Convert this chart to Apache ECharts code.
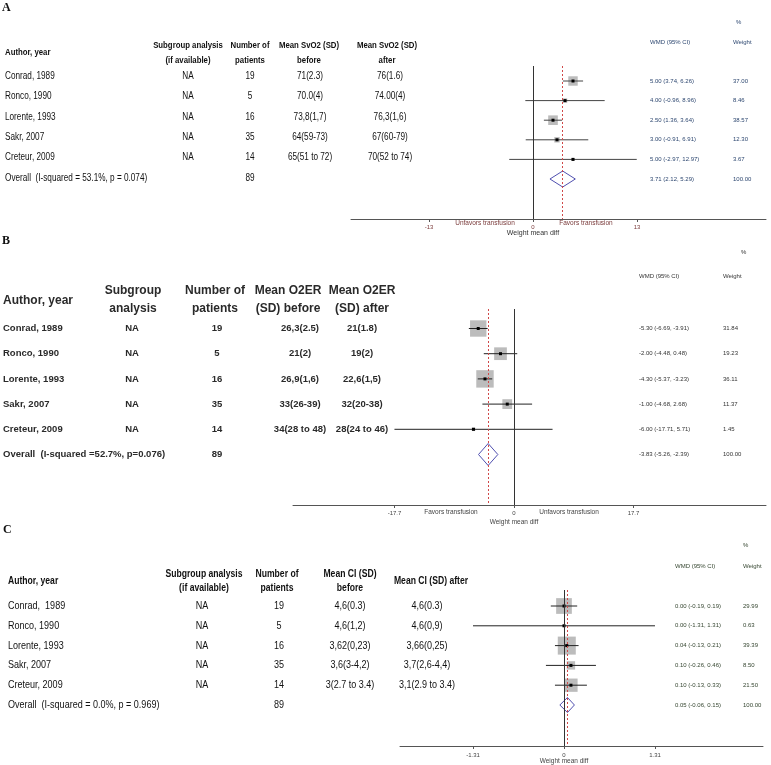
<!DOCTYPE html>
<html><head><meta charset="utf-8">
<script src="https://cdn.jsdelivr.net/npm/echarts@6/dist/echarts.min.js"></script>
<style>html,body{margin:0;padding:0;background:#fff}#c{width:771px;height:765px}</style>
</head><body><div id="c"></div>
<script>
// ================= DATA =================
const studies   = ['Conrad, 1989','Ronco, 1990','Lorente, 1993','Sakr, 2007','Creteur, 2009'];
const studiesC  = ['Conrad,  1989','Ronco, 1990','Lorente, 1993','Sakr, 2007','Creteur, 2009'];
const subgroup  = ['NA','NA','NA','NA','NA'];
const patients  = ['19','5','16','35','14'];
const totalPatients = '89';

// Panel A : SvO2
const aBefore = ['71(2.3)','70.0(4)','73,8(1,7)','64(59-73)','65(51 to 72)'];
const aAfter  = ['76(1.6)','74.00(4)','76,3(1,6)','67(60-79)','70(52 to 74)'];
const aEst    = [5.00, 4.00, 2.50, 3.00, 5.00];
const aLow    = [3.74, -0.96, 1.36, -0.91, -2.97];
const aHigh   = [6.26, 8.96, 3.64, 6.91, 12.97];
const aWeight = [37.00, 8.46, 38.57, 12.30, 3.67];
const aOverall = [3.71, 2.12, 5.29];
const aHet    = 'Overall  (I-squared = 53.1%, p = 0.074)';
const aTicks  = [-13, 0, 13];

// Panel B : O2ER
const bBefore = ['26,3(2.5)','21(2)','26,9(1,6)','33(26-39)','34(28 to 48)'];
const bAfter  = ['21(1.8)','19(2)','22,6(1,5)','32(20-38)','28(24 to 46)'];
const bEst    = [-5.30, -2.00, -4.30, -1.00, -6.00];
const bLow    = [-6.69, -4.48, -5.37, -4.68, -17.71];
const bHigh   = [-3.91, 0.48, -3.23, 2.68, 5.71];
const bWeight = [31.84, 19.23, 36.11, 11.37, 1.45];
const bOverall = [-3.83, -5.26, -2.39];
const bHet    = 'Overall  (I-squared =52.7%, p=0.076)';
const bTicks  = [-17.7, 0, 17.7];

// Panel C : CI
const cBefore = ['4,6(0.3)','4,6(1,2)','3,62(0,23)','3,6(3-4,2)','3(2.7 to 3.4)'];
const cAfter  = ['4,6(0.3)','4,6(0,9)','3,66(0,25)','3,7(2,6-4,4)','3,1(2.9 to 3.4)'];
const cEst    = [0.00, 0.00, 0.04, 0.10, 0.10];
const cLow    = [-0.19, -1.31, -0.13, -0.26, -0.13];
const cHigh   = [0.19, 1.31, 0.21, 0.46, 0.33];
const cWeight = [29.99, 0.63, 39.39, 8.50, 21.50];
const cOverall = [0.05, -0.06, 0.15];
const cHet    = 'Overall  (I-squared = 0.0%, p = 0.969)';
const cTicks  = [-1.31, 0, 1.31];

// ================= LAYOUT =================
const ARIAL  = '"Liberation Sans",Arial,sans-serif';
const SERIF  = '"Liberation Serif","Times New Roman",serif';
const NX = 0.82; // horizontal condensation for the Calibri-like tables

const panels = [
  {est:aEst, lo:aLow, hi:aHigh, w:aWeight, ov:aOverall, ticks:aTicks,
   left:351, right:5, top:66, bottom:219, xmin:-22.75, xmax:29.125, rowTop:81, rowStep:19.6,
   boxK:1.55, diaH:8, tickColor:'#7a3a3a', margin:5, valColor:'#2d4770', lineColor:'#444'},
  {est:bEst, lo:bLow, hi:bHigh, w:bWeight, ov:bOverall, ticks:bTicks,
   left:293, right:5, top:309, bottom:505, xmin:-32.74, xmax:37.33, rowTop:328.5, rowStep:25.2,
   boxK:2.9, diaH:11, tickColor:'#444', margin:5, valColor:'#333', lineColor:'#222'},
  {est:cEst, lo:cLow, hi:cHigh, w:cWeight, ov:cOverall, ticks:cTicks,
   left:400, right:8, top:590, bottom:746, xmin:-2.361, xmax:2.865, rowTop:606, rowStep:19.8,
   boxK:2.87, diaH:7.5, tickColor:'#444', margin:6, valColor:'#34452f', lineColor:'#222'}
];

const chart = echarts.init(document.getElementById('c'), null, {renderer:'canvas'});

function forestItem(p){
  return function(params, api){
    const est=api.value(0), row=api.value(1), lo=api.value(2), hi=api.value(3), w=api.value(4);
    const c=api.coord([est,row]), l=api.coord([lo,row]), h=api.coord([hi,row]);
    const s=p.boxK*Math.sqrt(w);
    return {type:'group', children:[
      {type:'rect', shape:{x:c[0]-s/2, y:c[1]-s/2, width:s, height:s}, style:{fill:'#bcbcbc'}},
      {type:'line', shape:{x1:l[0], y1:c[1], x2:h[0], y2:c[1]}, style:{stroke:p.lineColor, lineWidth:1}},
      {type:'rect', shape:{x:c[0]-1.5, y:c[1]-1.5, width:3, height:3}, style:{fill:'#000'}}
    ]};
  };
}
function diamondItem(p){
  return function(params, api){
    const est=api.value(0), row=api.value(1), lo=api.value(2), hi=api.value(3);
    const c=api.coord([est,row]), l=api.coord([lo,row]), h=api.coord([hi,row]);
    return {type:'polygon', shape:{points:[[l[0],c[1]],[c[0],c[1]-p.diaH],[h[0],c[1]],[c[0],c[1]+p.diaH]]},
      style:{fill:'none', stroke:'#5050b0', lineWidth:1}};
  };
}
function fmt(v){ return v.toFixed(2); }

const grids=[], xAxes=[], yAxes=[], series=[];
panels.forEach((p,i)=>{
  grids.push({left:p.left, right:p.right, top:p.top, height:p.bottom-p.top, outerBoundsMode:'none'});
  xAxes.push({gridIndex:i, type:'value', min:p.xmin, max:p.xmax,
    axisLine:{show:true, onZero:false, lineStyle:{color:'#555', width:1}},
    axisTick:{show:true, customValues:p.ticks, length:3, lineStyle:{color:'#555'}},
    axisLabel:{show:true, customValues:p.ticks, fontSize:6, fontFamily:ARIAL, color:p.tickColor, margin:p.margin,
      formatter:v=>String(v)},
    splitLine:{show:false}});
  yAxes.push({gridIndex:i, type:'value', inverse:true,
    min:(p.top-p.rowTop)/p.rowStep, max:(p.bottom-p.rowTop)/p.rowStep, show:false});
  const data = p.est.map((e,k)=>[e, k, p.lo[k], p.hi[k], p.w[k]]);
  series.push({type:'custom', xAxisIndex:i, yAxisIndex:i, renderItem:forestItem(p), data, clip:false,
    markLine:{silent:true, symbol:'none', label:{show:false}, animation:false, data:[
      {xAxis:0, lineStyle:{color:'#333', type:'solid', width:1}},
      {xAxis:p.ov[0], lineStyle:{color:'#d04848', type:[2,2], width:1}}
    ]}});
  series.push({type:'custom', xAxisIndex:i, yAxisIndex:i, renderItem:diamondItem(p), clip:false,
    data:[[p.ov[0], 5, p.ov[1], p.ov[2]]]});
});

chart.setOption({animation:false, backgroundColor:'#fff', grid:grids, xAxis:xAxes, yAxis:yAxes, series});

// ================= TEXT =================
function T(x,y,text,font,align,fill,sx){
  return {type:'text', silent:true, z:10, x:x, y:y, scaleX:sx||1,
    style:{x:0, y:0, text, font, align:align||'left', verticalAlign:'middle', fill:fill||'#111'}};
}
function N(x,y,text,font,align,fill){ return T(x,y,text,font,align,fill,NX); }
function rowY(i,r){ return chart.convertToPixel({gridIndex:i}, [0, r])[1]; }
const g=[];
const small = '6px '+ARIAL;

// ---- Panel A ----
{
  const hb='bold 9.5px '+ARIAL, b='10px '+ARIAL;
  g.push(T(2,8,'A','bold 12px '+SERIF));
  g.push(N(5,52,'Author, year',hb));
  g.push(N(188,45,'Subgroup analysis',hb,'center')); g.push(N(188,60,'(if available)',hb,'center'));
  g.push(N(250,45,'Number of',hb,'center')); g.push(N(250,60,'patients',hb,'center'));
  g.push(N(309,45,'Mean SvO2 (SD)',hb,'center')); g.push(N(309,60,'before',hb,'center'));
  g.push(N(387,45,'Mean SvO2 (SD)',hb,'center')); g.push(N(387,60,'after',hb,'center'));
  for(let r=0;r<5;r++){
    const y=76+20.4*r;
    g.push(N(5,y,studies[r],b)); g.push(N(188,y,subgroup[r],b,'center'));
    g.push(N(250,y,patients[r],b,'center')); g.push(N(310,y,aBefore[r],b,'center'));
    g.push(N(390,y,aAfter[r],b,'center'));
  }
  g.push(N(5,178,aHet,b)); g.push(N(250,178,totalPatients,b,'center'));
  const vc=panels[0].valColor;
  g.push(T(736,22,'%',small,'left',vc)); g.push(T(650,42,'WMD (95% CI)',small,'left',vc)); g.push(T(733,42,'Weight',small,'left',vc));
  for(let r=0;r<5;r++){
    const y=rowY(0,r);
    g.push(T(650,y,fmt(aEst[r])+' ('+fmt(aLow[r])+', '+fmt(aHigh[r])+')',small,'left',vc));
    g.push(T(733,y,fmt(aWeight[r]),small,'left',vc));
  }
  const yo=rowY(0,5);
  g.push(T(650,yo,fmt(aOverall[0])+' ('+fmt(aOverall[1])+', '+fmt(aOverall[2])+')',small,'left',vc));
  g.push(T(733,yo,fmt(100),small,'left',vc));
  g.push(T(485,223,'Unfavors transfusion','6.5px '+ARIAL,'center','#7a3a3a'));
  g.push(T(586,223,'Favors transfusion','6.5px '+ARIAL,'center','#7a3a3a'));
  g.push(T(533,233,'Weight mean diff','7px '+ARIAL,'center','#333'));
}
// ---- Panel B ----
{
  const hb='bold 12px '+ARIAL, b='bold 9.5px '+ARIAL, col='#2a2a2a';
  g.push(T(2,241,'B','bold 12px '+SERIF));
  g.push(T(3,301,'Author, year',hb,'left',col));
  g.push(T(133,291,'Subgroup',hb,'center',col)); g.push(T(133,309,'analysis',hb,'center',col));
  g.push(T(215,291,'Number of',hb,'center',col)); g.push(T(215,309,'patients',hb,'center',col));
  g.push(T(288,291,'Mean O2ER',hb,'center',col)); g.push(T(288,309,'(SD) before',hb,'center',col));
  g.push(T(362,291,'Mean O2ER',hb,'center',col)); g.push(T(362,309,'(SD) after',hb,'center',col));
  for(let r=0;r<5;r++){
    const y=rowY(1,r);
    g.push(T(3,y,studies[r],b,'left',col)); g.push(T(132,y,subgroup[r],b,'center',col));
    g.push(T(217,y,patients[r],b,'center',col)); g.push(T(300,y,bBefore[r],b,'center',col));
    g.push(T(362,y,bAfter[r],b,'center',col));
  }
  const yo=rowY(1,5);
  g.push(T(3,yo,bHet,b,'left',col)); g.push(T(217,yo,totalPatients,b,'center',col));
  const vc=panels[1].valColor;
  g.push(T(741,252,'%',small,'left',vc)); g.push(T(639,276,'WMD (95% CI)',small,'left',vc)); g.push(T(723,276,'Weight',small,'left',vc));
  for(let r=0;r<5;r++){
    const y=rowY(1,r);
    g.push(T(639,y,fmt(bEst[r])+' ('+fmt(bLow[r])+', '+fmt(bHigh[r])+')',small,'left',vc));
    g.push(T(723,y,fmt(bWeight[r]),small,'left',vc));
  }
  g.push(T(639,yo,fmt(bOverall[0])+' ('+fmt(bOverall[1])+', '+fmt(bOverall[2])+')',small,'left',vc));
  g.push(T(723,yo,fmt(100),small,'left',vc));
  g.push(T(451,512,'Favors transfusion','6.5px '+ARIAL,'center','#444'));
  g.push(T(569,512,'Unfavors transfusion','6.5px '+ARIAL,'center','#444'));
  g.push(T(514,522,'Weight mean diff','6.5px '+ARIAL,'center','#444'));
}
// ---- Panel C ----
{
  const hb='bold 10.5px '+ARIAL, b='11px '+ARIAL;
  g.push(T(3,530,'C','bold 12px '+SERIF));
  g.push(N(8,581,'Author, year',hb));
  g.push(N(204,574,'Subgroup analysis',hb,'center')); g.push(N(204,588,'(if available)',hb,'center'));
  g.push(N(277,574,'Number of',hb,'center')); g.push(N(277,588,'patients',hb,'center'));
  g.push(N(350,574,'Mean CI (SD)',hb,'center')); g.push(N(350,588,'before',hb,'center'));
  g.push(N(431,581,'Mean CI (SD) after',hb,'center'));
  for(let r=0;r<5;r++){
    const y=rowY(2,r);
    g.push(N(8,y,studiesC[r],b)); g.push(N(202,y,subgroup[r],b,'center'));
    g.push(N(279,y,patients[r],b,'center')); g.push(N(350,y,cBefore[r],b,'center'));
    g.push(N(427,y,cAfter[r],b,'center'));
  }
  const yo=rowY(2,5);
  g.push(N(8,yo,cHet,b)); g.push(N(279,yo,totalPatients,b,'center'));
  const vc=panels[2].valColor;
  g.push(T(743,545,'%',small,'left',vc)); g.push(T(675,566,'WMD (95% CI)',small,'left',vc)); g.push(T(743,566,'Weight',small,'left',vc));
  for(let r=0;r<5;r++){
    const y=rowY(2,r);
    g.push(T(675,y,fmt(cEst[r])+' ('+fmt(cLow[r])+', '+fmt(cHigh[r])+')',small,'left',vc));
    g.push(T(743,y,fmt(cWeight[r]),small,'left',vc));
  }
  g.push(T(675,yo,fmt(cOverall[0])+' ('+fmt(cOverall[1])+', '+fmt(cOverall[2])+')',small,'left',vc));
  g.push(T(743,yo,fmt(100),small,'left',vc));
  g.push(T(564,761,'Weight mean diff','6.5px '+ARIAL,'center','#444'));
}
chart.setOption({graphic:g});
</script>
</body></html>
